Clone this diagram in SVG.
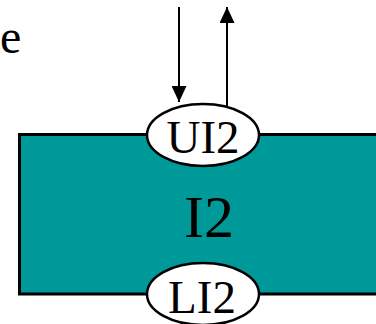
<svg xmlns="http://www.w3.org/2000/svg" width="376" height="324" viewBox="0 0 376 324">
<style>
  .t { font-family: "Liberation Serif", "Times New Roman", serif; fill: #000; }
  .port { fill: #fff; stroke: #000; stroke-width: 2.5; }
  .conn { stroke: #000; stroke-width: 2; fill: none; }
</style>
<defs>
  <marker id="ah" viewBox="0 0 16 15" refX="16" refY="7.5" markerWidth="16" markerHeight="15" markerUnits="userSpaceOnUse" orient="auto">
    <path d="M0,0 L16,7.5 L0,15 Z" fill="#000"/>
  </marker>
</defs>
<rect width="376" height="324" fill="#fff"/>
<text class="t" x="0" y="53" font-size="48">e</text>
<g id="I2">
  <rect x="19.5" y="134.5" width="400" height="159.5" fill="#009999" stroke="#000" stroke-width="3"/>
  <text class="t" x="209" y="237" font-size="60" text-anchor="middle">I2</text>
</g>
<g id="connectors">
  <line class="conn" x1="179" y1="7" x2="179" y2="102" marker-end="url(#ah)"/>
  <line class="conn" x1="227" y1="106" x2="227" y2="7" marker-end="url(#ah)"/>
</g>
<g id="UI2">
  <ellipse class="port" cx="203" cy="135" rx="56" ry="31"/>
  <text class="t" x="203" y="153" font-size="47" text-anchor="middle">UI2</text>
</g>
<g id="LI2">
  <ellipse class="port" cx="203" cy="294" rx="56" ry="31"/>
  <text class="t" x="202" y="313" font-size="47" text-anchor="middle">LI2</text>
</g>
</svg>
